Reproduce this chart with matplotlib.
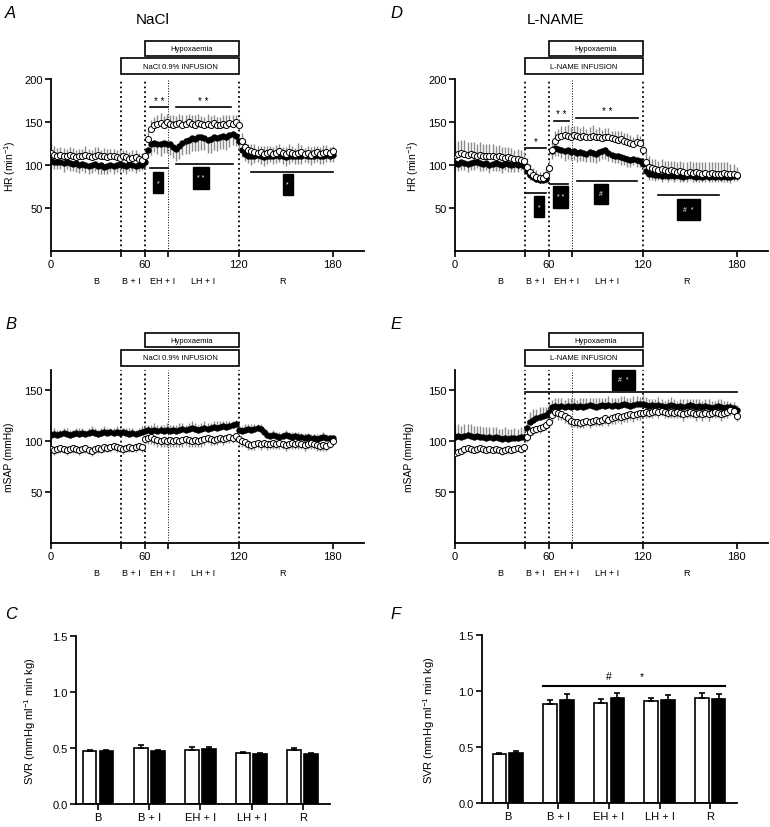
"""HR, mSAP and SVR during NaCl vs L-NAME infusion with hypoxaemia (panels A-F)."""

import matplotlib.pyplot as plt
import matplotlib.transforms as mtransforms
import numpy as np
from matplotlib.patches import Rectangle

plt.rcParams["font.family"] = ["Liberation Sans", "DejaVu Sans"]
plt.rcParams["mathtext.default"] = "regular"

# time axis, minutes (one sample every 2 min)
T_MIN = np.arange(0, 181, 2)
PHASES = ["B", "B + I", "EH + I", "LH + I", "R"]
PHASE_MID = [29, 51, 71, 97, 148]

# ---- panel A: HR, NaCl ----
A_OPEN = np.array([
    114, 112, 111, 112, 110, 111, 112, 110, 109, 111,
    110, 112, 111, 109, 111, 112, 110, 111, 109, 110,
    111, 109, 108, 110, 109, 107, 108, 109, 107, 106,
    110, 130, 142, 147, 148, 149, 147, 150, 148, 147,
    148, 149, 147, 148, 150, 148, 147, 149, 148, 146,
    148, 147, 149, 146, 147, 148, 147, 149, 148, 150,
    146, 128, 121, 118, 116, 115, 114, 115, 113, 114,
    115, 113, 114, 116, 114, 113, 115, 114, 113, 114,
    115, 113, 114, 112, 114, 115, 113, 114, 115, 114,
    116])
A_OPEN_SEM = np.array([
    12, 10, 9, 9, 10, 8, 9, 10, 9, 8,
    9, 10, 8, 9, 10, 9, 8, 9, 10, 9,
    8, 9, 9, 8, 9, 8, 9, 8, 7, 8,
    8, 9, 10, 9, 10, 11, 10, 9, 10, 11,
    9, 10, 11, 10, 9, 10, 11, 10, 9, 10,
    11, 10, 9, 10, 9, 10, 11, 9, 10, 8,
    8, 9, 8, 7, 8, 9, 8, 7, 9, 8,
    7, 8, 9, 8, 7, 8, 9, 8, 7, 12,
    8, 7, 8, 9, 8, 7, 8, 9, 8, 7,
    6])
A_FILLED = np.array([
    105, 104, 103, 104, 102, 103, 102, 101, 102, 100,
    101, 100, 99, 100, 101, 99, 100, 98, 99, 100,
    99, 100, 101, 100, 99, 101, 100, 99, 100, 100,
    103, 118, 124, 126, 125, 124, 126, 125, 124, 121,
    119, 122, 126, 128, 129, 131, 130, 132, 133, 131,
    129, 130, 132, 131, 133, 134, 133, 135, 136, 134,
    128, 118, 113, 111, 110, 111, 112, 110, 109, 110,
    111, 110, 112, 111, 110, 109, 110, 111, 110, 111,
    110, 112, 111, 110, 111, 112, 110, 111, 112, 111,
    112])
A_FILLED_SEM = np.array([
    8, 9, 8, 9, 10, 8, 9, 8, 10, 9,
    8, 9, 10, 9, 8, 9, 10, 8, 9, 8,
    9, 8, 9, 8, 9, 8, 7, 8, 7, 6,
    8, 10, 12, 11, 12, 13, 12, 11, 12, 13,
    14, 15, 14, 15, 16, 15, 14, 16, 15, 14,
    15, 16, 14, 15, 14, 15, 16, 14, 13, 12,
    10, 9, 8, 9, 10, 9, 8, 9, 10, 9,
    8, 9, 10, 8, 9, 10, 9, 8, 9, 10,
    9, 8, 9, 10, 9, 8, 9, 10, 9, 8,
    9])

# ---- panel D: HR, L-NAME ----
D_OPEN = np.array([
    112, 113, 114, 113, 112, 113, 112, 111, 112, 111,
    110, 111, 110, 109, 110, 109, 108, 109, 108, 107,
    107, 106, 105, 98, 92, 88, 86, 85, 85, 88,
    96, 118, 128, 132, 134, 135, 134, 133, 135, 134,
    133, 134, 132, 133, 134, 132, 133, 131, 132, 133,
    131, 130, 129, 130, 128, 127, 126, 125, 127, 126,
    118, 104, 98, 96, 95, 94, 95, 94, 93, 94,
    93, 92, 93, 92, 91, 92, 91, 92, 91, 90,
    91, 90, 91, 90, 89, 90, 91, 90, 89, 90,
    88])
D_OPEN_SEM = np.array([
    16, 15, 15, 16, 15, 14, 15, 14, 15, 14,
    14, 13, 14, 13, 13, 12, 13, 12, 12, 11,
    12, 11, 10, 10, 9, 8, 8, 7, 7, 8,
    10, 10, 11, 10, 11, 10, 12, 11, 10, 11,
    10, 11, 10, 11, 12, 10, 11, 10, 11, 10,
    9, 10, 11, 10, 9, 10, 9, 8, 9, 8,
    10, 11, 12, 11, 12, 11, 12, 11, 12, 11,
    12, 11, 12, 11, 12, 13, 12, 11, 12, 13,
    12, 13, 12, 13, 14, 13, 12, 13, 12, 11,
    10])
D_FILLED = np.array([
    102, 101, 103, 102, 101, 102, 103, 104, 102, 101,
    102, 100, 101, 102, 101, 100, 102, 101, 100, 101,
    100, 101, 99, 93, 88, 86, 84, 83, 83, 84,
    97, 116, 120, 119, 118, 116, 117, 115, 116, 114,
    115, 114, 113, 115, 114, 113, 115, 116, 117, 114,
    112, 111, 110, 109, 108, 107, 106, 107, 106, 105,
    101, 93, 90, 89, 88, 88, 87, 88, 87, 88,
    87, 88, 87, 86, 87, 88, 87, 86, 87, 86,
    87, 86, 87, 86, 87, 86, 87, 86, 86, 87,
    87])
D_FILLED_SEM = np.array([
    9, 8, 9, 8, 9, 8, 9, 8, 9, 8,
    8, 9, 8, 9, 8, 9, 8, 9, 8, 9,
    8, 7, 8, 6, 5, 4, 4, 4, 4, 5,
    8, 9, 10, 9, 10, 11, 10, 9, 10, 11,
    10, 9, 10, 11, 10, 11, 10, 9, 10, 9,
    8, 9, 8, 9, 8, 9, 8, 7, 8, 7,
    7, 6, 7, 6, 7, 6, 7, 6, 7, 6,
    7, 6, 7, 6, 7, 6, 7, 6, 7, 6,
    7, 6, 7, 6, 7, 6, 7, 6, 7, 6,
    6])

# ---- panel B: mSAP, NaCl ----
B_FILLED = np.array([
    106, 107, 106, 107, 108, 107, 106, 107, 108, 107,
    108, 107, 108, 109, 108, 107, 108, 109, 108, 109,
    108, 109, 108, 109, 108, 107, 108, 107, 108, 109,
    110, 111, 110, 111, 110, 111, 110, 111, 110, 111,
    110, 111, 112, 111, 112, 113, 112, 111, 112, 113,
    112, 113, 114, 113, 114, 115, 114, 115, 116, 117,
    111, 110, 111, 112, 111, 112, 113, 112, 109, 106,
    105, 106, 105, 104, 105, 106, 105, 104, 105, 104,
    104, 103, 104, 102, 103, 102, 103, 104, 103, 103,
    103])
B_FILLED_SEM = np.array([
    5, 6, 5, 4, 5, 6, 5, 4, 5, 6,
    5, 4, 5, 6, 5, 4, 5, 6, 5, 4,
    5, 6, 5, 4, 5, 6, 5, 4, 5, 6,
    6, 5, 6, 7, 6, 5, 6, 7, 6, 5,
    6, 7, 6, 5, 6, 7, 6, 5, 6, 7,
    6, 5, 6, 7, 6, 5, 6, 5, 4, 4,
    4, 5, 6, 5, 6, 5, 4, 5, 4, 5,
    4, 5, 4, 5, 4, 5, 4, 5, 4, 5,
    4, 5, 4, 5, 4, 5, 4, 5, 4, 3,
    3])
B_OPEN = np.array([
    92, 91, 92, 93, 92, 91, 92, 93, 92, 91,
    92, 93, 91, 90, 92, 93, 92, 94, 93, 94,
    95, 94, 93, 92, 93, 94, 93, 94, 95, 94,
    102, 103, 104, 102, 101, 100, 101, 100, 101, 100,
    101, 100, 101, 102, 101, 100, 101, 100, 101, 102,
    103, 102, 101, 102, 103, 102, 103, 104, 103, 105,
    102, 100, 99, 97, 96, 97, 98, 97, 98, 97,
    97, 98, 97, 98, 97, 96, 97, 98, 97, 98,
    97, 96, 97, 98, 97, 96, 95, 96, 95, 97,
    100])
B_OPEN_SEM = np.array([
    4, 5, 4, 5, 4, 5, 4, 5, 4, 5,
    4, 5, 4, 5, 4, 5, 4, 5, 4, 5,
    4, 5, 4, 5, 4, 5, 4, 5, 4, 5,
    5, 6, 7, 6, 7, 6, 7, 6, 7, 6,
    7, 6, 7, 6, 7, 6, 7, 6, 7, 6,
    5, 6, 5, 6, 5, 6, 5, 6, 5, 6,
    5, 6, 5, 6, 5, 6, 5, 6, 5, 6,
    5, 6, 5, 6, 5, 6, 5, 6, 5, 6,
    5, 6, 5, 6, 5, 6, 5, 6, 5, 4,
    4])

# ---- panel E: mSAP, L-NAME ----
E_FILLED = np.array([
    104, 105, 104, 105, 106, 105, 104, 105, 104, 104,
    103, 104, 103, 104, 103, 102, 103, 102, 103, 103,
    103, 104, 104, 113, 119, 121, 122, 123, 124, 125,
    128, 133, 134, 133, 134, 133, 134, 133, 134, 133,
    134, 133, 134, 135, 134, 133, 134, 135, 134, 135,
    134, 135, 134, 135, 136, 135, 134, 135, 136, 136,
    136, 135, 134, 135, 134, 135, 134, 133, 134, 135,
    134, 133, 134, 133, 134, 135, 134, 133, 134, 133,
    134, 133, 132, 133, 134, 133, 132, 133, 133, 132,
    130])
E_FILLED_SEM = np.array([
    11, 12, 11, 12, 11, 12, 11, 10, 11, 10,
    11, 10, 11, 10, 9, 10, 11, 10, 9, 10,
    9, 10, 9, 8, 9, 10, 9, 10, 9, 8,
    8, 7, 8, 9, 8, 7, 8, 9, 8, 7,
    8, 9, 8, 7, 8, 9, 8, 7, 8, 9,
    8, 7, 8, 9, 8, 7, 8, 9, 8, 7,
    9, 8, 7, 6, 7, 8, 7, 6, 7, 8,
    7, 6, 7, 8, 7, 6, 7, 8, 7, 6,
    7, 8, 7, 6, 7, 8, 7, 6, 5, 6,
    5])
E_OPEN = np.array([
    88, 89, 90, 92, 93, 92, 91, 92, 93, 92,
    91, 92, 91, 92, 91, 90, 91, 92, 91, 92,
    93, 92, 94, 104, 109, 111, 112, 113, 114, 116,
    119, 125, 128, 127, 126, 124, 122, 120, 119, 119,
    118, 119, 120, 119, 120, 121, 120, 121, 122, 121,
    122, 123, 124, 123, 124, 125, 126, 125, 126, 127,
    127, 128, 127, 128, 129, 128, 129, 128, 127, 128,
    127, 128, 127, 126, 127, 128, 127, 126, 127, 126,
    127, 126, 127, 128, 127, 126, 127, 128, 130, 129,
    124])
E_OPEN_SEM = np.array([
    3, 4, 3, 4, 3, 4, 3, 4, 3, 4,
    3, 4, 3, 4, 3, 4, 3, 4, 3, 4,
    3, 4, 3, 5, 4, 5, 4, 5, 4, 5,
    5, 6, 5, 6, 5, 6, 5, 6, 5, 6,
    5, 6, 5, 6, 5, 6, 5, 6, 5, 6,
    5, 6, 5, 6, 5, 6, 5, 6, 5, 6,
    5, 6, 5, 6, 5, 6, 5, 6, 5, 6,
    5, 6, 5, 6, 5, 6, 5, 6, 5, 6,
    5, 6, 5, 6, 5, 6, 5, 6, 5, 4,
    4])

# ---- panels C / F: SVR bars ----
C_OPEN = [0.47, 0.50, 0.485, 0.455, 0.48]
C_OPEN_ERR = [0.010, 0.025, 0.025, 0.012, 0.022]
C_FILLED = [0.47, 0.47, 0.49, 0.445, 0.45]
C_FILLED_ERR = [0.010, 0.010, 0.015, 0.010, 0.006]
F_OPEN = [0.44, 0.885, 0.895, 0.91, 0.94]
F_OPEN_ERR = [0.010, 0.035, 0.030, 0.025, 0.040]
F_FILLED = [0.45, 0.92, 0.94, 0.92, 0.93]
F_FILLED_ERR = [0.015, 0.050, 0.040, 0.045, 0.040]

# significance marks: (t0, t1, y, text)
A_SIG_TOP = [(63, 75, 167, "* *"), (80, 115, 167, "* *")]
A_SIG_LOW = [(63, 75, 97), (80, 116, 101), (128, 180, 92)]
A_SIG_BOX = [(65, 71.5, 67, 92, "*"), (90.5, 101, 72.5, 98, "* *"), (148, 154.5, 65, 90, "*")]
D_SIG_TOP = [(45, 58, 120, "*"), (63, 73, 151, "* *"), (77, 117, 155, "* *")]
D_SIG_LOW = [(45, 58, 68), (61, 72, 78), (78, 116, 81), (130, 169, 65)]
D_SIG_BOX = [(50.4, 56.8, 39, 63.5, "*"), (62.6, 72, 50.5, 76, "* *"),
             (89, 97.6, 55, 78, "#"), (142, 156.6, 36, 61, "#  *")]
E_SIG_LOW = [(45, 180, 148)]
E_SIG_BOX = [(100, 115, 150, 170, "#  *")]

GREY = "#8a8a8a"
W, H = 770, 828


def rect(left_px, top_px, width_px, height_px):
    return [left_px / W, 1 - (top_px + height_px) / H, width_px / W, height_px / H]


def style_axis(ax, lw=1.3):
    for s in ("top", "right"):
        ax.spines[s].set_visible(False)
    for s in ("left", "bottom"):
        ax.spines[s].set_linewidth(lw)
    ax.tick_params(direction="out", length=4, width=1.2, labelsize=8, pad=2)


def timecourse(ax, filled, filled_sem, opened, opened_sem, filled_up):
    sgn = 1 if filled_up else -1
    ax.vlines(T_MIN, filled, filled + sgn * filled_sem, color=GREY, lw=1.0, zorder=1)
    ax.vlines(T_MIN, opened, opened - sgn * opened_sem, color=GREY, lw=1.0, zorder=1)
    ax.plot(T_MIN, filled, "o", ms=4.6, color="black", mew=0, zorder=3)
    ax.plot(T_MIN, opened, "o", ms=4.4, mfc="white", mec="black", mew=0.7, zorder=4)


def phase_frame(ax, infusion, boxes, ymax, yticks, ylabel, label_x):
    tr = mtransforms.blended_transform_factory(ax.transData, ax.transAxes)
    for t, lw in ((45, 1.3), (60, 1.3), (75, 0.7), (120, 1.3)):
        ax.axvline(t, color="black", ls=":", lw=lw, zorder=0)
    (i0, i1), (h0, h1) = boxes
    ax.add_patch(Rectangle((45, i0), 75, i1 - i0, transform=tr, fc="white", ec="black",
                           lw=1.2, clip_on=False))
    ax.text(82.5, (i0 + i1) / 2, infusion, transform=tr, ha="center", va="center", fontsize=5.5)
    ax.add_patch(Rectangle((60, h0), 60, h1 - h0, transform=tr, fc="white", ec="black",
                           lw=1.2, clip_on=False))
    ax.text(90, (h0 + h1) / 2, "Hypoxaemia", transform=tr, ha="center", va="center", fontsize=5.5)
    for name, x in zip(PHASES, PHASE_MID):
        ax.text(x, -0.17, name, transform=tr, ha="center", va="center", fontsize=6.5)
    ax.set_xlim(0, 200)
    ax.set_ylim(0, ymax)
    ax.set_xticks([0, 45, 60, 75, 120, 180])
    ax.set_xticklabels(["0", "", "60", "", "120", "180"])
    ax.set_yticks(yticks)
    ax.set_ylabel(ylabel, fontsize=7.5)
    ax.yaxis.set_label_coords(label_x, 0.5)
    style_axis(ax)


def sig_marks(ax, top=(), low=(), black=()):
    for t0, t1, y, txt in top:
        ax.plot([t0, t1], [y, y], color="black", lw=1.2, clip_on=False)
        ax.text((t0 + t1) / 2, y + 2, txt, ha="center", va="bottom", fontsize=7)
    for t0, t1, y in low:
        ax.plot([t0, t1], [y, y], color="black", lw=1.2, clip_on=False)
    for t0, t1, y0, y1, txt in black:
        ax.add_patch(Rectangle((t0, y0), t1 - t0, y1 - y0, fc="black", ec="black", clip_on=False))
        ax.text((t0 + t1) / 2, (y0 + y1) / 2, txt, color="white", ha="center", va="center",
                fontsize=5)


def bar_panel(ax, open_vals, open_err, filled_vals, filled_err, xlim, label_x):
    x = np.arange(len(PHASES))
    w = 0.27
    zero = np.zeros(len(PHASES))
    ekw = {"elinewidth": 1.2, "capthick": 1.2}
    ax.bar(x - 0.165, open_vals, w, color="white", edgecolor="black", lw=1.2,
           yerr=[zero, open_err], capsize=2.5, error_kw=ekw)
    ax.bar(x + 0.165, filled_vals, w, color="black", edgecolor="black", lw=1.2,
           yerr=[zero, filled_err], capsize=2.5, error_kw=ekw)
    ax.set_xlim(*xlim)
    ax.set_ylim(0, 1.5)
    ax.set_yticks([0.0, 0.5, 1.0, 1.5])
    ax.set_yticklabels(["0.0", "0.5", "1.0", "1.5"])
    ax.set_xticks(x)
    ax.set_xticklabels(PHASES)
    ax.set_ylabel("SVR (mmHg ml$^{-1}$ min kg)", fontsize=8)
    ax.yaxis.set_label_coords(label_x, 0.5)
    style_axis(ax)


def main():
    fig = plt.figure(figsize=(W / 100, H / 100), dpi=100)

    ax_a = fig.add_axes(rect(51, 80, 313, 172))
    ax_d = fig.add_axes(rect(455, 80, 313, 172))
    ax_b = fig.add_axes(rect(51, 370.5, 313, 173.5))
    ax_e = fig.add_axes(rect(455, 370.5, 313, 173.5))
    ax_c = fig.add_axes(rect(76, 637, 254, 168))
    ax_f = fig.add_axes(rect(482, 636, 255, 168))

    hr_boxes = ((1.029, 1.122), (1.134, 1.221))
    sap_boxes = ((1.023, 1.110), (1.127, 1.213))
    hr_label = "HR (min$^{-1}$)"

    timecourse(ax_a, A_FILLED, A_FILLED_SEM, A_OPEN, A_OPEN_SEM, filled_up=False)
    phase_frame(ax_a, "NaCl 0.9% INFUSION", hr_boxes, 200, [50, 100, 150, 200], hr_label, -0.107)
    sig_marks(ax_a, A_SIG_TOP, A_SIG_LOW, A_SIG_BOX)

    timecourse(ax_d, D_FILLED, D_FILLED_SEM, D_OPEN, D_OPEN_SEM, filled_up=False)
    phase_frame(ax_d, "L-NAME INFUSION", hr_boxes, 200, [50, 100, 150, 200], hr_label, -0.11)
    sig_marks(ax_d, D_SIG_TOP, D_SIG_LOW, D_SIG_BOX)

    timecourse(ax_b, B_FILLED, B_FILLED_SEM, B_OPEN, B_OPEN_SEM, filled_up=True)
    phase_frame(ax_b, "NaCl 0.9% INFUSION", sap_boxes, 170, [50, 100, 150], "mSAP (mmHg)", -0.118)

    timecourse(ax_e, E_FILLED, E_FILLED_SEM, E_OPEN, E_OPEN_SEM, filled_up=True)
    phase_frame(ax_e, "L-NAME INFUSION", sap_boxes, 170, [50, 100, 150], "mSAP (mmHg)", -0.13)
    sig_marks(ax_e, (), E_SIG_LOW, E_SIG_BOX)

    bar_panel(ax_c, C_OPEN, C_OPEN_ERR, C_FILLED, C_FILLED_ERR, (-0.43, 4.53), -0.15)
    bar_panel(ax_f, F_OPEN, F_OPEN_ERR, F_FILLED, F_FILLED_ERR, (-0.51, 4.53), -0.175)
    ax_f.plot([0.7, 4.3], [1.045, 1.045], color="black", lw=1.5)
    ax_f.text(2.0, 1.09, "#", ha="center", va="bottom", fontsize=7.5)
    ax_f.text(2.65, 1.09, "*", ha="center", va="bottom", fontsize=7.5)

    for letter, xp, yp in (("A", 5, 13), ("D", 390, 13), ("B", 5, 325),
                           ("E", 390, 325), ("C", 5, 615), ("F", 390, 615)):
        fig.text(xp / W, 1 - yp / H, letter, fontsize=12, style="italic",
                 ha="left", va="center")
    fig.text(153 / W, 1 - 20 / H, "NaCl", fontsize=11, ha="center", va="center")
    fig.text(555 / W, 1 - 20 / H, "L-NAME", fontsize=11, ha="center", va="center")

    fig.savefig("out.png", dpi=100)


if __name__ == "__main__":
    main()
